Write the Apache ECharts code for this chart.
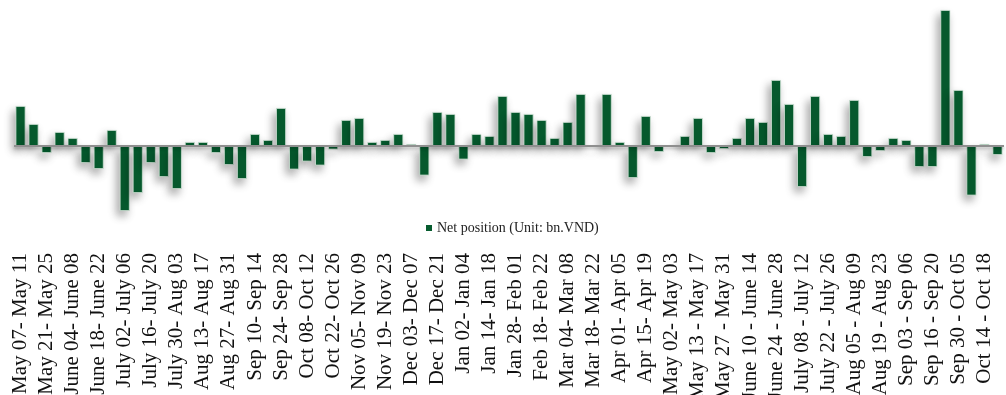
<!DOCTYPE html>
<html>
<head>
<meta charset="utf-8">
<script src="https://cdn.jsdelivr.net/npm/echarts@6/dist/echarts.min.js"></script>
<style>
html,body{margin:0;padding:0;background:#fff;}
#chart{width:1006px;height:395px;}
</style>
</head>
<body>
<div id="chart"></div>
<script>
const seriesName = 'Net position (Unit: bn.VND)';

const categories = [
  'May 07- May 11','May 14- May 18','May 21- May 25','May 28- June 01',
  'June 04- June 08','June 11- June 15','June 18- June 22','June 25- June 29',
  'July 02- July 06','July 09- July 13','July 16- July 20','July 23- July 27',
  'July 30- Aug 03','Aug 06- Aug 10','Aug 13- Aug 17','Aug 20- Aug 24',
  'Aug 27- Aug 31','Sep 03- Sep 07','Sep 10- Sep 14','Sep 17- Sep 21',
  'Sep 24- Sep 28','Oct 01- Oct 05','Oct 08- Oct 12','Oct 15- Oct 19',
  'Oct 22- Oct 26','Oct 29- Nov 02','Nov 05- Nov 09','Nov 12- Nov 16',
  'Nov 19- Nov 23','Nov 26- Nov 30','Dec 03- Dec 07','Dec 10- Dec 14',
  'Dec 17- Dec 21','Dec 24- Dec 28','Jan 02- Jan 04','Jan 07- Jan 11',
  'Jan 14- Jan 18','Jan 21- Jan 25','Jan 28- Feb 01','Feb 11- Feb 15',
  'Feb 18- Feb 22','Feb 25- Mar 01','Mar 04- Mar 08','Mar 11- Mar 15',
  'Mar 18- Mar 22','Mar 25- Mar 29','Apr 01- Apr 05','Apr 08- Apr 12',
  'Apr 15- Apr 19','Apr 22- Apr 26','May 02- May 03','May 06 - May 10',
  'May 13 - May 17','May 20 - May 24','May 27 - May 31','June 03 - June 07',
  'June 10 - June 14','June 17 - June 21','June 24 - June 28','July 01 - July 05',
  'July 08 - July 12','July 15 - July 19','July 22 - July 26','July 29 - Aug 02',
  'Aug 05 - Aug 09','Aug 12 - Aug 16','Aug 19 - Aug 23','Aug 26 - Aug 30',
  'Sep 03 - Sep 06','Sep 09 - Sep 13','Sep 16 - Sep 20','Sep 23 - Sep 27',
  'Sep 30 - Oct 05','Oct 07 - Oct 11','Oct 14 - Oct 18','Oct 21 - Oct 25'
];

const netPosition = [
  400, 220, -70, 140, 80, -170, -230, 160,
  -650, -470, -170, -310, -430, 40, 40, -70,
  -190, -330, 120, 60, 380, -235, -155, -195,
  -35, 260, 280, 40, 60, 120, 20, -295,
  340, 320, -135, 120, 100, 500, 340, 320,
  260, 80, 240, 520, -10, 520, 40, -320,
  300, -60, 0, 100, 280, -70, -30, 80,
  280, 240, 660, 420, -410, 500, 120, 100,
  460, -110, -50, 80, 60, -210, -210, 1360,
  560, -495, 20, -90
];

const yMin = -700;
const yMax = 1360;

const chart = echarts.init(document.getElementById('chart'), null, {renderer: 'canvas'});
chart.setOption({
  animation: false,
  backgroundColor: '#ffffff',
  grid: {left: 14, right: 2, top: 10, height: 206, containLabel: false, outerBoundsMode: 'none'},
  legend: {
    data: [seriesName],
    left: 421, top: 216,
    itemWidth: 6, itemHeight: 6, itemGap: 4,
    icon: 'rect',
    itemStyle: {borderWidth: 0, shadowBlur: 0, shadowColor: 'transparent'},
    textStyle: {fontFamily: 'Liberation Serif', fontSize: 14, color: '#222'}
  },
  xAxis: {
    type: 'category',
    data: categories,
    axisLine: {show: false, onZero: false},
    axisTick: {show: false},
    axisLabel: {
      interval: 1,
      rotate: 90,
      margin: 37,
      fontFamily: 'Liberation Serif',
      fontSize: 21,
      color: '#111'
    },
    splitLine: {show: false}
  },
  yAxis: {
    type: 'value',
    min: yMin, max: yMax,
    show: false,
    splitLine: {show: false}
  },
  series: [{
    name: seriesName,
    type: 'bar',
    data: netPosition,
    barWidth: 10,
    z: 2,
    itemStyle: {
      color: '#075c2f',
      borderColor: '#d6e6da',
      borderWidth: 0.8,
      shadowColor: 'rgba(0,0,0,0.35)',
      shadowBlur: 8,
      shadowOffsetX: -3,
      shadowOffsetY: 5
    },
    markLine: {
      silent: true,
      symbol: 'none',
      label: {show: false},
      z: 3,
      lineStyle: {color: '#8f8f8f', width: 2, type: 'solid', shadowColor: 'rgba(0,0,0,0.25)', shadowBlur: 3, shadowOffsetY: 2},
      data: [{yAxis: 0}]
    }
  }]
});
</script>
</body>
</html>
